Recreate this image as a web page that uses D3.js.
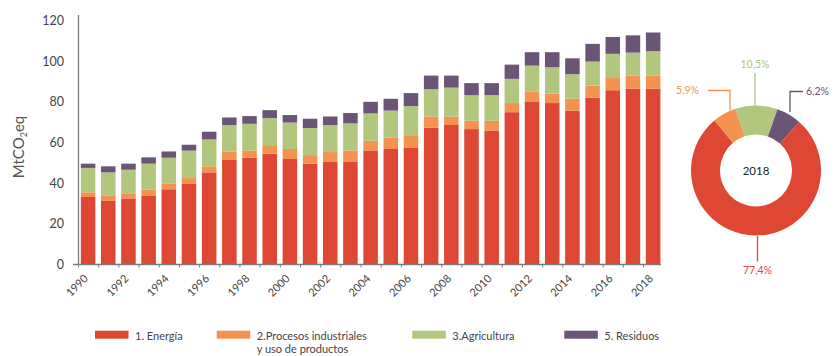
<!DOCTYPE html>
<html>
<head>
<meta charset="utf-8">
<script src="https://cdn.jsdelivr.net/npm/d3@7"></script>
<style>
  html, body { margin: 0; padding: 0; background: #fff; }
  svg { display: block; font-family: Lato, "Open Sans", sans-serif; }
</style>
</head>
<body>
<svg id="chart" width="837" height="356"></svg>
<script>
// Emisiones de GEI por sector, 1990-2018 (MtCO2eq)
const years = d3.range(1990, 2019);
const energia   = [33.2, 31.3, 32.5, 34.0, 37.0, 39.6, 45.3, 51.7, 52.5, 54.5, 51.9, 49.6, 50.4, 50.4, 56.1, 56.8, 57.6, 67.2, 68.6, 66.6, 65.8, 74.9, 80.2, 79.4, 75.7, 82.1, 85.7, 86.4, 86.4];
const procesos  = [2.3, 2.7, 2.2, 2.8, 2.9, 2.9, 3.0, 3.8, 3.6, 4.2, 4.9, 4.2, 4.9, 5.7, 4.8, 5.7, 6.0, 5.6, 4.2, 4.1, 4.9, 4.5, 4.9, 4.7, 5.8, 5.9, 6.4, 6.5, 6.5];
const agricultura = [12.0, 11.3, 11.9, 12.8, 12.6, 13.5, 13.2, 13.1, 13.1, 13.3, 13.0, 13.3, 13.3, 13.3, 13.4, 13.2, 14.3, 13.4, 14.2, 12.6, 12.6, 11.9, 12.7, 12.9, 12.1, 11.8, 11.5, 11.3, 12.0];
const residuos  = [2.1, 3.0, 3.0, 3.1, 3.1, 2.9, 3.8, 3.7, 3.8, 3.9, 3.7, 4.6, 4.2, 5.1, 5.7, 5.8, 6.4, 6.7, 5.9, 5.9, 5.9, 7.0, 6.6, 7.4, 7.8, 8.7, 8.3, 8.5, 9.2];

const seriesKeys   = ["energia", "procesos", "agricultura", "residuos"];
const seriesLabels = [["1. Energía"], ["2.Procesos industriales", "y uso de productos"], ["3.Agricultura"], ["5. Residuos"]];
const yTicks = [0, 20, 40, 60, 80, 100, 120];

// Participación 2018 (%)
const donutYear = "2018";
const donutShares = [
  { key: "agricultura", value: 10.5, label: "10,5%" },
  { key: "residuos",    value: 6.2,  label: "6,2%" },
  { key: "energia",     value: 77.4, label: "77,4%" },
  { key: "procesos",    value: 5.9,  label: "5,9%" }
];

const colors = {
  energia: "#dd4733",
  procesos: "#f3934f",
  agricultura: "#b2c67e",
  residuos: "#6b5577"
};

const table = years.map((y, i) => ({
  year: y,
  energia: energia[i],
  procesos: procesos[i],
  agricultura: agricultura[i],
  residuos: residuos[i]
}));

const svg = d3.select("#chart");
const axisColor = "#7d7d7d";
const textColor = "#444";

// Scales
const x = d3.scaleBand()
  .domain(years)
  .range([78, 78 + years.length * 20.18])
  .paddingInner(0.28)
  .paddingOuter(0.14);
const y = d3.scaleLinear().domain([0, 120]).range([264.5, 20.5]);

// Stacked bars
const stack = d3.stack().keys(seriesKeys);
const layers = stack(table);

svg.append("g")
  .selectAll("g")
  .data(layers)
  .join("g")
  .attr("fill", d => colors[d.key])
  .selectAll("rect")
  .data(d => d)
  .join("rect")
  .attr("x", d => x(d.data.year))
  .attr("width", x.bandwidth())
  .attr("y", d => y(d[1]))
  .attr("height", d => y(d[0]) - y(d[1]));

// Y axis
const yAxis = svg.append("g");
yAxis.append("line")
  .attr("x1", 78.5).attr("x2", 78.5)
  .attr("y1", 15).attr("y2", y(0))
  .attr("stroke", axisColor).attr("stroke-width", 1.3);
yAxis.selectAll("text")
  .data(yTicks)
  .join("text")
  .attr("x", 64)
  .attr("y", d => y(d))
  .attr("dy", "0.35em")
  .attr("text-anchor", "end")
  .attr("font-size", 12.5)
  .attr("fill", textColor)
  .text(d => d);

// Y axis title
const yTitle = svg.append("text")
  .attr("transform", "translate(24,147) rotate(-90)")
  .attr("text-anchor", "middle")
  .attr("font-size", 15)
  .attr("fill", "#555");
yTitle.append("tspan").text("MtCO");
yTitle.append("tspan").attr("font-size", 9).attr("dy", 3).text("2");
yTitle.append("tspan").attr("dy", -3).text("eq");

// X axis
const step = x.step();
const xStart = x.range()[0];
const xAxis = svg.append("g");
xAxis.append("line")
  .attr("x1", 73).attr("x2", 661)
  .attr("y1", y(0)).attr("y2", y(0))
  .attr("stroke", axisColor).attr("stroke-width", 1.3);
xAxis.selectAll("line.tick")
  .data(d3.range(years.length))
  .join("line")
  .attr("class", "tick")
  .attr("x1", i => xStart + i * step + 0.5)
  .attr("x2", i => xStart + i * step + 0.5)
  .attr("y1", y(0)).attr("y2", y(0) + 3)
  .attr("stroke", axisColor).attr("stroke-width", 1);
xAxis.selectAll("text")
  .data(years.filter(d => d % 2 === 0))
  .join("text")
  .attr("transform", d => `translate(${x(d) + x.bandwidth() / 2 - 2},${y(0) + 12}) rotate(-45)`)
  .attr("text-anchor", "end")
  .attr("dy", "0.35em")
  .attr("font-size", 11)
  .attr("fill", textColor)
  .text(d => d);

// Donut for 2018
const cx = 756, cy = 170.5;
const pie = d3.pie()
  .sort(null)
  .value(d => d.value)
  .startAngle(-18.5 * Math.PI / 180)
  .endAngle(-18.5 * Math.PI / 180 + 2 * Math.PI);
const arc = d3.arc().innerRadius(36).outerRadius(65);
const donut = svg.append("g").attr("transform", `translate(${cx},${cy})`);
donut.selectAll("path")
  .data(pie(donutShares))
  .join("path")
  .attr("d", arc)
  .attr("fill", d => colors[d.data.key]);

donut.append("text")
  .attr("text-anchor", "middle")
  .attr("dy", "0.35em")
  .attr("font-size", 11.5)
  .attr("fill", "#222")
  .text(donutYear);

// Leader lines and percentage labels
const leaders = {
  agricultura: { pts: [[755, 106], [755, 73]], tx: 755, ty: 67.5, anchor: "middle" },
  procesos:    { pts: [[730, 110.5], [730, 90.5], [708, 90.5]], tx: 699, ty: 93.5, anchor: "end" },
  residuos:    { pts: [[790, 112], [790, 91.5], [803, 91.5]], tx: 806, ty: 95, anchor: "start" },
  energia:     { pts: [[757.5, 236], [757.5, 261.5]], tx: 757.5, ty: 273.5, anchor: "middle" }
};
const labelG = svg.append("g");
donutShares.forEach(d => {
  const L = leaders[d.key];
  labelG.append("path")
    .attr("d", d3.line()(L.pts))
    .attr("fill", "none")
    .attr("stroke", colors[d.key])
    .attr("stroke-width", 1.3);
  labelG.append("text")
    .attr("x", L.tx).attr("y", L.ty)
    .attr("text-anchor", L.anchor)
    .attr("font-size", 10.5)
    .attr("fill", colors[d.key])
    .text(d.label);
});

// Legend
const legendX = [95, 216.7, 412.3, 564.3];
const legend = svg.append("g");
seriesKeys.forEach((k, i) => {
  legend.append("rect")
    .attr("x", legendX[i]).attr("y", 330.7)
    .attr("width", 33.5).attr("height", 8)
    .attr("fill", colors[k]);
  const t = legend.append("text")
    .attr("x", legendX[i] + 40).attr("y", 339.5)
    .attr("font-size", 11)
    .attr("fill", textColor);
  seriesLabels[i].forEach((line, j) => {
    t.append("tspan")
      .attr("x", legendX[i] + 40)
      .attr("dy", j === 0 ? 0 : 13.5)
      .text(line);
  });
});
</script>
</body>
</html>
